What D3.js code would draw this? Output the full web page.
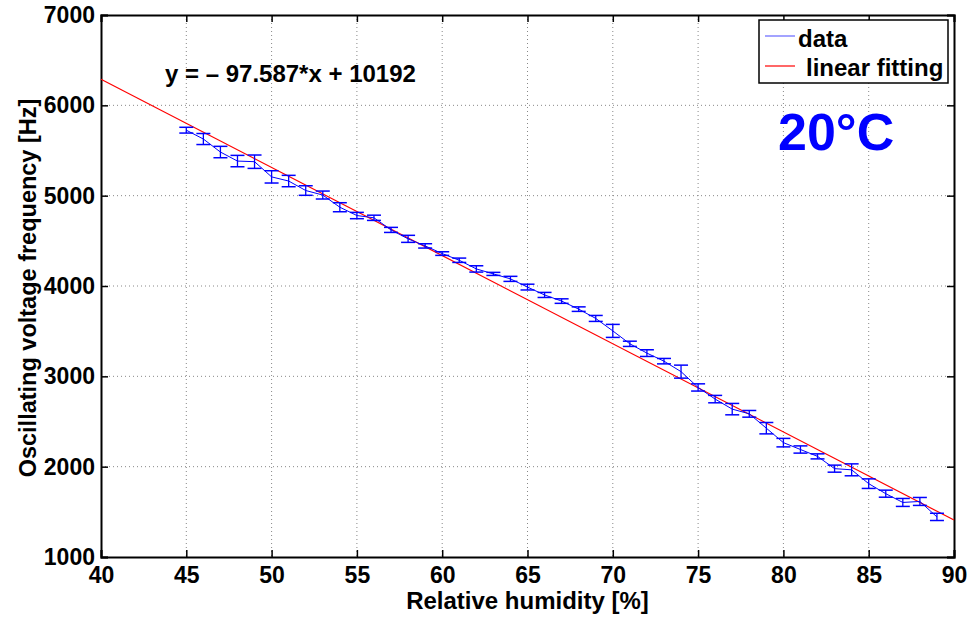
<!DOCTYPE html>
<html>
<head>
<meta charset="utf-8">
<script src="https://cdn.jsdelivr.net/npm/d3@7"></script>
<style>
  body { margin: 0; background: #fff; }
  svg text { font-family: "Liberation Sans", Arial, Helvetica, sans-serif; font-weight: bold; }
</style>
</head>
<body>
<div id="chart"></div>
<script>
// humidité relative (%)
const humidity = [45, 46, 47, 48, 49, 50, 51, 52, 53, 54, 55, 56, 57, 58, 59, 60, 61, 62, 63, 64, 65, 66,
  67, 68, 69, 70, 71, 72, 73, 74, 75, 76, 77, 78, 79, 80, 81, 82, 83, 84, 85, 86, 87, 88, 89];
// fréquence moyenne (Hz)
const frequency = [5725, 5627, 5483, 5383, 5376, 5208, 5162, 5057, 5007, 4872, 4780, 4755, 4621, 4522,
  4444, 4359, 4285, 4189, 4134, 4079, 3988, 3901, 3833, 3744, 3641, 3503, 3360, 3257, 3168, 3052,
  2877, 2748, 2637, 2585, 2426, 2266, 2190, 2114, 1978, 1965, 1812, 1701, 1604, 1615, 1444];
// demi-largeur des barres d'erreur (Hz)
const errHalf = [32, 61, 63, 63, 74, 68, 63, 53, 44, 50, 35, 29, 28, 39, 24, 20, 24, 35, 17, 28, 32, 28,
  25, 25, 33, 72, 29, 37, 30, 72, 40, 41, 63, 37, 63, 47, 40, 28, 39, 66, 53, 39, 44, 44, 40];

const fitSlope = -97.587;
const fitIntercept = 10192;
const xTicks = [40, 45, 50, 55, 60, 65, 70, 75, 80, 85, 90];
const yTicks = [1000, 2000, 3000, 4000, 5000, 6000, 7000];

const W = 968, H = 618;
const margin = { top: 15, right: 14, bottom: 61, left: 101 };
const width = W - margin.left - margin.right;
const height = H - margin.top - margin.bottom;

const svg = d3.select("#chart").append("svg")
  .attr("width", W).attr("height", H);

const g = svg.append("g")
  .attr("transform", `translate(${margin.left},${margin.top})`);

const x = d3.scaleLinear().domain([40, 90]).range([0, width]);
const y = d3.scaleLinear().domain([1000, 7000]).range([height, 0]);

// grille pointillée
g.selectAll(".vgrid")
  .data(xTicks.slice(1, -1))
  .enter().append("line")
  .attr("x1", d => x(d)).attr("x2", d => x(d))
  .attr("y1", 0).attr("y2", height)
  .attr("stroke", "#888").attr("stroke-width", 1)
  .attr("stroke-dasharray", "1,3");

g.selectAll(".hgrid")
  .data(yTicks.slice(1, -1))
  .enter().append("line")
  .attr("x1", 0).attr("x2", width)
  .attr("y1", d => y(d)).attr("y2", d => y(d))
  .attr("stroke", "#888").attr("stroke-width", 1)
  .attr("stroke-dasharray", "1,3");

// axes (ticks vers l'intérieur, comme MATLAB)
const tickLen = 7;
const xAxis = g.append("g")
  .attr("transform", `translate(0,${height})`)
  .call(d3.axisBottom(x).tickValues(xTicks).tickSize(-tickLen).tickPadding(10).tickFormat(d3.format("d")));
const yAxis = g.append("g")
  .call(d3.axisLeft(y).tickValues(yTicks).tickSize(-tickLen).tickPadding(6).tickFormat(d3.format("d")));
g.append("g")
  .call(d3.axisTop(x).tickValues(xTicks).tickSize(-tickLen).tickFormat(""));
g.append("g")
  .attr("transform", `translate(${width},0)`)
  .call(d3.axisRight(y).tickValues(yTicks).tickSize(-tickLen).tickFormat(""));

g.selectAll(".domain").attr("stroke", "#000").attr("stroke-width", 2);
g.selectAll(".tick line").attr("stroke", "#000").attr("stroke-width", 1.5);
xAxis.selectAll("text").attr("font-size", 23).attr("fill", "#000");
yAxis.selectAll("text").attr("font-size", 23).attr("fill", "#000");

// droite de régression
const fitLine = d3.line()
  .x(d => x(d))
  .y(d => y(fitSlope * d + fitIntercept));
g.append("path")
  .datum([40, 90])
  .attr("fill", "none")
  .attr("stroke", "#ff0000")
  .attr("stroke-width", 1.2)
  .attr("d", fitLine);

// données
const pts = humidity.map((h, i) => ({ h, f: frequency[i], e: errHalf[i] }));

g.append("path")
  .datum(pts)
  .attr("fill", "none")
  .attr("stroke", "#0000ff")
  .attr("stroke-width", 1)
  .attr("d", d3.line().x(d => x(d.h)).y(d => y(d.f)));

const cap = 7;
const eb = g.selectAll(".eb").data(pts).enter().append("g");
eb.append("line")
  .attr("x1", d => x(d.h)).attr("x2", d => x(d.h))
  .attr("y1", d => y(d.f - d.e)).attr("y2", d => y(d.f + d.e))
  .attr("stroke", "#0000ff").attr("stroke-width", 1.3);
eb.append("line")
  .attr("x1", d => x(d.h) - cap).attr("x2", d => x(d.h) + cap)
  .attr("y1", d => y(d.f + d.e)).attr("y2", d => y(d.f + d.e))
  .attr("stroke", "#0000ff").attr("stroke-width", 1.5);
eb.append("line")
  .attr("x1", d => x(d.h) - cap).attr("x2", d => x(d.h) + cap)
  .attr("y1", d => y(d.f - d.e)).attr("y2", d => y(d.f - d.e))
  .attr("stroke", "#0000ff").attr("stroke-width", 1.5);

// équation
svg.append("text")
  .attr("x", 165).attr("y", 82)
  .attr("font-size", 24)
  .attr("fill", "#000")
  .text("y = \u2013 97.587*x + 10192");

// température
svg.append("text")
  .attr("x", 778).attr("y", 150)
  .attr("font-size", 52)
  .attr("fill", "#0000ff")
  .text("20°C");

// légende
const lg = svg.append("g").attr("transform", "translate(759,20)");
lg.append("rect")
  .attr("width", 189).attr("height", 63)
  .attr("fill", "#fff").attr("stroke", "#000").attr("stroke-width", 1.5);
lg.append("line").attr("x1", 6).attr("x2", 36).attr("y1", 16).attr("y2", 16)
  .attr("stroke", "#6666ff").attr("stroke-width", 1.2);
lg.append("text").attr("x", 39).attr("y", 27).attr("font-size", 24).attr("fill", "#000").text("data");
lg.append("line").attr("x1", 6).attr("x2", 36).attr("y1", 46).attr("y2", 46)
  .attr("stroke", "#ff0000").attr("stroke-width", 1.2);
lg.append("text").attr("x", 47).attr("y", 56).attr("font-size", 24).attr("fill", "#000").text("linear fitting");

// titres des axes
svg.append("text")
  .attr("x", margin.left + width / 2).attr("y", 609)
  .attr("text-anchor", "middle")
  .attr("font-size", 24)
  .attr("fill", "#000")
  .text("Relative humidity [%]");

svg.append("text")
  .attr("transform", `translate(36,${margin.top + height / 2 + 2}) rotate(-90)`)
  .attr("text-anchor", "middle")
  .attr("font-size", 23.5)
  .attr("fill", "#000")
  .text("Oscillating voltage frequency [Hz]");
</script>
</body>
</html>
